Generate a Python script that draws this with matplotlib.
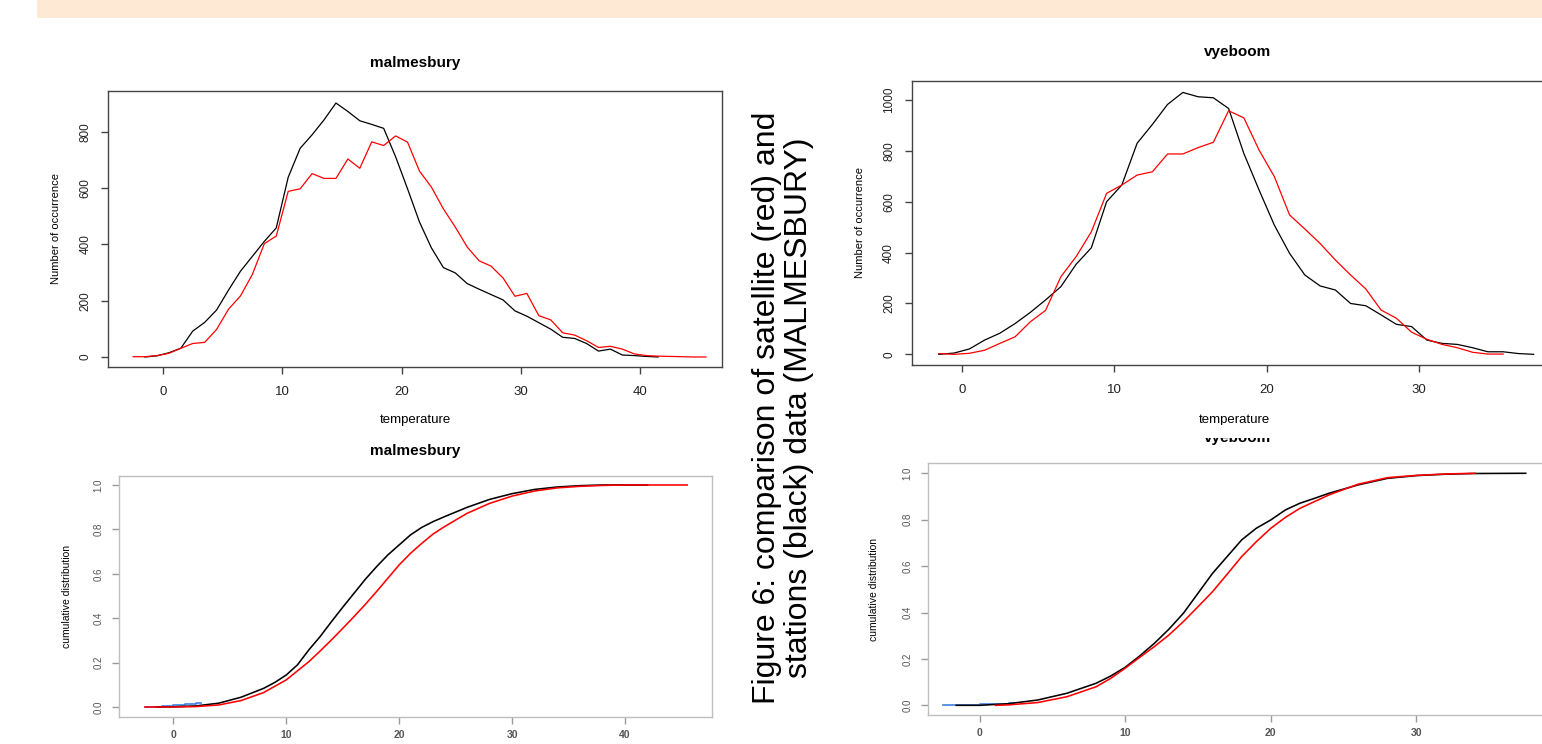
import numpy as np
import matplotlib
matplotlib.use("Agg")
import matplotlib.pyplot as plt
from matplotlib.patches import Rectangle

plt.rcParams['font.family'] = ['Liberation Sans', 'DejaVu Sans']

W, H = 1542, 744

# --- histogram (frequency polygon) data ---
malm_bins_black = [-1.5, -0.5, 0.5, 1.5, 2.5, 3.5, 4.5, 5.5, 6.5, 7.5, 8.5, 9.5, 10.5, 11.5,
                   12.5, 13.5, 14.5, 15.5, 16.5, 17.5, 18.5, 19.5, 20.5, 21.5, 22.5, 23.5,
                   24.5, 25.5, 26.5, 27.5, 28.5, 29.5, 30.5, 31.5, 32.5, 33.5, 34.5, 35.5,
                   36.5, 37.5, 38.5, 39.5, 40.5, 41.5]
malm_black = [0, 4, 15, 31, 92, 123, 167, 238, 305, 358, 411, 459, 639, 742, 790, 843, 903,
              873, 840, 827, 813, 712, 598, 480, 388, 318, 299, 261, 241, 222, 203, 164, 145,
              122, 99, 70, 66, 48, 21, 28, 7, 5, 2, 0]

malm_bins_red = [-2.5, -1.5, -0.5, 0.5, 1.5, 2.5, 3.5, 4.5, 5.5, 6.5, 7.5, 8.5, 9.5, 10.5,
                 11.5, 12.5, 13.5, 14.5, 15.5, 16.5, 17.5, 18.5, 19.5, 20.5, 21.5, 22.5,
                 23.5, 24.5, 25.5, 26.5, 27.5, 28.5, 29.5, 30.5, 31.5, 32.5, 33.5, 34.5,
                 35.5, 36.5, 37.5, 38.5, 39.5, 40.5, 41.5, 42.5, 43.5, 44.5, 45.5]
malm_red = [1, 1, 5, 13, 31, 48, 52, 98, 170, 217, 294, 403, 430, 589, 598, 652, 635, 635,
            704, 671, 765, 752, 786, 764, 661, 604, 527, 462, 391, 342, 323, 281, 216, 226,
            147, 132, 86, 78, 58, 34, 38, 28, 11, 5, 3, 2, 1, 0, 0]

vye_bins_black = [-1.5, -0.5, 0.5, 1.5, 2.5, 3.5, 4.5, 5.5, 6.5, 7.5, 8.5, 9.5, 10.5, 11.5,
                  12.5, 13.5, 14.5, 15.5, 16.5, 17.5, 18.5, 19.5, 20.5, 21.5, 22.5, 23.5,
                  24.5, 25.5, 26.5, 27.5, 28.5, 29.5, 30.5, 31.5, 32.5, 33.5, 34.5, 35.5,
                  36.5, 37.5]
vye_black = [0, 5, 21, 56, 83, 121, 165, 214, 266, 354, 419, 600, 666, 830, 904, 983, 1030,
             1013, 1009, 967, 790, 646, 508, 397, 312, 269, 253, 200, 191, 155, 118, 109, 56,
             43, 39, 26, 10, 10, 3, 0]

vye_bins_red = [-1.5, -0.5, 0.5, 1.5, 2.5, 3.5, 4.5, 5.5, 6.5, 7.5, 8.5, 9.5, 10.5, 11.5,
                12.5, 13.5, 14.5, 15.5, 16.5, 17.5, 18.5, 19.5, 20.5, 21.5, 22.5, 23.5,
                24.5, 25.5, 26.5, 27.5, 28.5, 29.5, 30.5, 31.5, 32.5, 33.5, 34.5, 35.5]
vye_red = [3, 0, 4, 16, 43, 69, 128, 173, 305, 384, 482, 633, 666, 705, 718, 788, 788, 813,
           834, 958, 930, 803, 699, 548, 493, 436, 371, 312, 257, 174, 142, 87, 59, 39, 26,
           8, 1, 1]

# --- cumulative distributions ---
malm_cdf_t_black = [-1.5, 0, 2, 4, 6, 8, 9, 10, 11, 12, 13, 14, 15, 16, 17, 18, 19, 20, 21,
                    22, 23, 24, 26, 28, 30, 32, 34, 36, 38, 42]
malm_cdf_black = [0, 0.001, 0.005, 0.017, 0.044, 0.084, 0.111, 0.144, 0.19, 0.257, 0.317,
                  0.384, 0.449, 0.512, 0.575, 0.632, 0.685, 0.73, 0.775, 0.809, 0.835, 0.857,
                  0.899, 0.935, 0.961, 0.98, 0.991, 0.997, 1.0, 1.0]
malm_cdf_t_red = [-2.5, 0, 2, 4, 6, 8, 10, 12, 13, 14, 15, 16, 17, 18, 19, 20, 21, 22, 23,
                  24, 26, 28, 30, 32, 34, 36, 38, 40, 45.5]
malm_cdf_red = [0, 0.0, 0.002, 0.009, 0.029, 0.065, 0.122, 0.204, 0.252, 0.302, 0.354, 0.407,
                0.462, 0.52, 0.58, 0.64, 0.692, 0.737, 0.779, 0.812, 0.872, 0.917, 0.95,
                0.973, 0.987, 0.994, 0.998, 1.0, 1.0]
malm_cdf_t_blue = [-2.5, -1, 0, 1, 2, 2.5]
malm_cdf_blue = [0.002, 0.005, 0.008, 0.012, 0.016, 0.02]

vye_cdf_t_black = [-1.6, 0, 2, 4, 6, 8, 9, 10, 11, 12, 13, 14, 15, 16, 17, 18, 19, 20, 21,
                   22, 23, 24, 26, 28, 30, 32, 34, 37.5]
vye_cdf_black = [0, 0.0, 0.007, 0.023, 0.052, 0.095, 0.126, 0.164, 0.213, 0.267, 0.328,
                 0.397, 0.483, 0.569, 0.641, 0.713, 0.763, 0.799, 0.842, 0.871, 0.892, 0.914,
                 0.95, 0.978, 0.99, 0.996, 0.999, 1.0]
vye_cdf_t_red = [1.1, 2, 4, 6, 8, 9, 10, 11, 12, 13, 14, 15, 16, 17, 18, 19, 20, 21, 22, 23,
                 24, 26, 28, 30, 32, 34]
vye_cdf_red = [0, 0.002, 0.012, 0.037, 0.08, 0.116, 0.16, 0.207, 0.253, 0.303, 0.361, 0.425,
               0.49, 0.565, 0.641, 0.705, 0.763, 0.81, 0.849, 0.878, 0.907, 0.953, 0.981,
               0.991, 0.997, 1.0]
vye_cdf_t_blue = [-2.5, -1, 0, 1, 2, 2.45]
vye_cdf_blue = [0, 0.002, 0.004, 0.007, 0.01, 0.012]

hist_xticks_malm = [0, 10, 20, 30, 40]
hist_yticks_malm = [0, 200, 400, 600, 800]
hist_xticks_vye = [0, 10, 20, 30]
hist_yticks_vye = [0, 200, 400, 600, 800, 1000]
cdf_yticks = [0.0, 0.2, 0.4, 0.6, 0.8, 1.0]

caption = "Figure 6: comparison of satellite (red) and\nstations (black) data (MALMESBURY)"

fig = plt.figure(figsize=(W / 100, H / 100), dpi=100)


def px_axes(left, top, right, bottom):
    return fig.add_axes([left / W, 1 - bottom / H, (right - left) / W, (bottom - top) / H])


def style_axes(ax, edge, tick_col, lab_col, ysize, xsize, xbold, ypad, xpad):
    for sp in ax.spines.values():
        sp.set_color(edge)
        sp.set_linewidth(1.0)
    ax.tick_params(direction='out', length=5, width=1, color=tick_col, labelcolor=lab_col)
    ax.tick_params(axis='y', labelsize=ysize, labelrotation=90, pad=ypad)
    ax.tick_params(axis='x', labelsize=xsize, pad=xpad)
    for lb in ax.get_yticklabels():
        lb.set_va('center')
    if xbold:
        for lb in ax.get_xticklabels():
            lb.set_fontweight('bold')


# top-left: malmesbury counts
ax1 = px_axes(108, 91, 722, 367)
ax1.plot(malm_bins_black, malm_black, color='black', lw=0.9)
ax1.plot(malm_bins_red, malm_red, color='#ff0000', lw=0.9)
ax1.set_xlim(-4.6, 46.85)
ax1.set_ylim(-35.6, 945.8)
ax1.set_xticks(hist_xticks_malm)
ax1.set_yticks(hist_yticks_malm)
style_axes(ax1, '#444444', '#444444', '#222222', 8.5, 9.5, False, 7, 9)
ax1.set_xlabel("temperature", fontsize=9.5, labelpad=11)
ax1.set_ylabel("Number of occurrence", fontsize=8, labelpad=13)

# top-right: vyeboom counts (right edge runs off the page)
ax2 = px_axes(911.7, 81, 1558, 365)
ax2.plot(vye_bins_black, vye_black, color='black', lw=0.9)
ax2.plot(vye_bins_red, vye_red, color='#ff0000', lw=0.9)
ax2.set_xlim(-3.28, 39.1)
ax2.set_ylim(-42, 1075)
ax2.set_xticks(hist_xticks_vye)
ax2.set_yticks(hist_yticks_vye)
style_axes(ax2, '#444444', '#444444', '#222222', 8.5, 9.5, False, 7, 9)
ax2.set_xlabel("temperature", fontsize=9.5, labelpad=13)
ax2.set_ylabel("Number of occurrence", fontsize=8, labelpad=13)

# bottom-left: malmesbury cdf
ax3 = px_axes(118.6, 476, 712, 717)
ax3.plot(malm_cdf_t_blue, malm_cdf_blue, color='#3d7fe0', lw=1.2, drawstyle='steps-post')
ax3.plot(malm_cdf_t_black, malm_cdf_black, color='black', lw=1.15)
ax3.plot(malm_cdf_t_red, malm_cdf_red, color='#ff0000', lw=1.15)
ax3.set_xlim(-4.84, 47.7)
ax3.set_ylim(-0.045, 1.0405)
ax3.set_xticks(hist_xticks_malm)
ax3.set_yticks(cdf_yticks)
ax3.set_yticklabels([f"{v:.1f}" for v in cdf_yticks])
style_axes(ax3, '#bebebe', '#9a9a9a', '#555555', 7, 7.5, True, 6, 4)
ax3.set_ylabel("cumulative distribution", fontsize=7.5, labelpad=15)

# bottom-right: vyeboom cdf
ax4 = px_axes(928, 463.3, 1549, 715.3)
ax4.plot(vye_cdf_t_blue, vye_cdf_blue, color='#3d7fe0', lw=1.2, drawstyle='steps-post')
ax4.plot(vye_cdf_t_black, vye_cdf_black, color='black', lw=1.15)
ax4.plot(vye_cdf_t_red, vye_cdf_red, color='#ff0000', lw=1.15)
ax4.set_xlim(-3.54, 39.1)
ax4.set_ylim(-0.043, 1.043)
ax4.set_xticks(hist_xticks_vye)
ax4.set_yticks(cdf_yticks)
ax4.set_yticklabels([f"{v:.1f}" for v in cdf_yticks])
style_axes(ax4, '#bebebe', '#9a9a9a', '#555555', 7, 7.5, True, 6, 4)
ax4.set_ylabel("cumulative distribution", fontsize=7.5, labelpad=17)

# titles
fig.text(415 / W, 1 - 63 / H, "malmesbury", ha='center', va='center', fontsize=11, fontweight='bold')
fig.text(1238 / W, 1 - 52 / H, "vyeboom", ha='center', va='center', fontsize=11, fontweight='bold')
fig.text(415 / W, 1 - 451 / H, "malmesbury", ha='center', va='center', fontsize=11, fontweight='bold')
fig.text(1238 / W, 1 - 442 / H, "vyeboom", ha='center', va='baseline', fontsize=11, fontweight='bold')
# the lower vyeboom title is cut off at the top in the source page
fig.patches.append(Rectangle((1180 / W, 1 - 438 / H), 120 / W, 13 / H, transform=fig.transFigure,
                             facecolor='white', edgecolor='none', zorder=10))

# page band at the top
fig.patches.append(Rectangle((37 / W, 1 - 18 / H), (W - 37) / W, 18 / H, transform=fig.transFigure,
                             facecolor='#fde9d4', edgecolor='none', zorder=0))

# rotated caption between the panels
fig.text(783 / W, 1 - 408 / H, caption, rotation=90, ha='center', va='center',
         multialignment='center', fontsize=23, linespacing=1.05)

fig.savefig("out.png", dpi=100)
